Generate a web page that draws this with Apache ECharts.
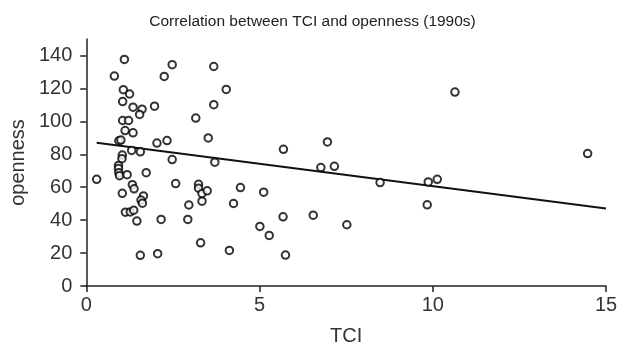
<!DOCTYPE html>
<html>
<head>
<meta charset="utf-8">
<script src="https://cdn.jsdelivr.net/npm/echarts@6/dist/echarts.min.js"></script>
<style>html,body{margin:0;padding:0;background:#fff}#c{width:625px;height:353px}</style>
</head>
<body>
<div id="c"></div>
<script>
const titleText = 'Correlation between TCI and openness (1990s)';
const xName = 'TCI';
const yName = 'openness';
const xTicks = [0, 5, 10, 15];
const yTicks = [0, 20, 40, 60, 80, 100, 120, 140];
const tciValues = [0.30,0.81,1.10,2.48,2.25,1.07,1.25,1.05,1.35,1.61,1.54,1.97,1.05,1.22,1.12,1.35,0.94,1.00,2.04,2.33,1.31,1.56,1.04,1.03,2.48,0.93,0.93,0.94,0.96,1.18,1.73,2.58,1.33,1.38,1.04,1.65,1.58,1.62,1.13,1.27,1.37,1.46,2.16,2.93,2.96,1.56,2.06,3.68,4.04,3.68,3.16,3.52,5.69,3.71,3.24,3.24,3.34,3.49,3.34,4.45,5.12,4.25,5.68,6.55,5.01,5.28,3.30,4.13,5.75,10.64,6.96,6.77,7.16,8.48,9.87,10.13,14.47,7.52,9.84];
const opennessValues = [64.8,127.5,137.6,134.4,127.3,119.2,116.6,112.0,108.6,107.4,104.2,109.2,100.5,100.5,94.4,93.0,88.2,88.6,86.8,88.3,82.3,81.5,79.5,77.3,76.8,73.2,71.3,68.8,67.0,67.6,68.8,62.2,61.5,59.0,56.3,54.7,52.2,50.3,44.8,45.0,46.0,39.4,40.4,40.4,49.2,18.6,19.6,133.3,119.4,110.1,102.0,89.9,83.0,75.2,61.8,59.4,56.2,57.8,51.5,59.8,57.0,50.1,42.0,43.0,36.2,30.7,26.2,21.6,18.8,117.8,87.5,71.9,72.7,62.8,63.2,64.8,80.4,37.2,49.3];
const fitX = [0.30, 15];
const fitY = [87.0, 47.1];

const pts = tciValues.map((v, i) => [v, opennessValues[i]]);
const fitPts = fitX.map((v, i) => [v, fitY[i]]);
const font = 'Liberation Sans, Arial, sans-serif';
const chart = echarts.init(document.getElementById('c'), null, {renderer: 'canvas'});
chart.setOption({
  animation: false,
  backgroundColor: '#fff',
  title: {
    text: titleText, left: 'center', top: 9,
    textStyle: {fontFamily: font, fontSize: 15.5, fontWeight: 'normal', color: '#222'}
  },
  grid: {left: 83, right: 19, top: 39, bottom: 67, containLabel: false},
  xAxis: {
    type: 'value', min: 0, max: 15, interval: 5,
    name: xName, nameLocation: 'middle', nameGap: 40,
    nameTextStyle: {fontFamily: font, fontSize: 20, color: '#333'},
    axisLine: {show: true, lineStyle: {color: '#222', width: 1.5}},
    axisTick: {show: true, length: 6, lineStyle: {color: '#222', width: 1.5}, customValues: xTicks},
    axisLabel: {fontFamily: font, fontSize: 20, color: '#333', margin: 9, customValues: xTicks},
    splitLine: {show: false}
  },
  yAxis: {
    type: 'value', min: 0, max: 150,
    name: yName, nameLocation: 'middle', nameGap: 50,
    nameTextStyle: {fontFamily: font, fontSize: 20, color: '#333'},
    axisLine: {show: true, onZero: false, lineStyle: {color: '#222', width: 1.5}},
    axisTick: {show: true, length: 6, lineStyle: {color: '#222', width: 1.5}, customValues: yTicks},
    axisLabel: {fontFamily: font, fontSize: 20, color: '#333', margin: 14, customValues: yTicks},
    splitLine: {show: false}
  },
  series: [
    {
      type: 'scatter', data: pts, symbol: 'circle', symbolSize: 7.5,
      itemStyle: {color: '#fff', borderColor: '#000', borderWidth: 2},
      z: 3
    },
    {
      type: 'line', data: fitPts, showSymbol: false, symbol: 'none',
      lineStyle: {color: '#111', width: 2}, z: 2
    }
  ]
});
</script>
</body>
</html>
